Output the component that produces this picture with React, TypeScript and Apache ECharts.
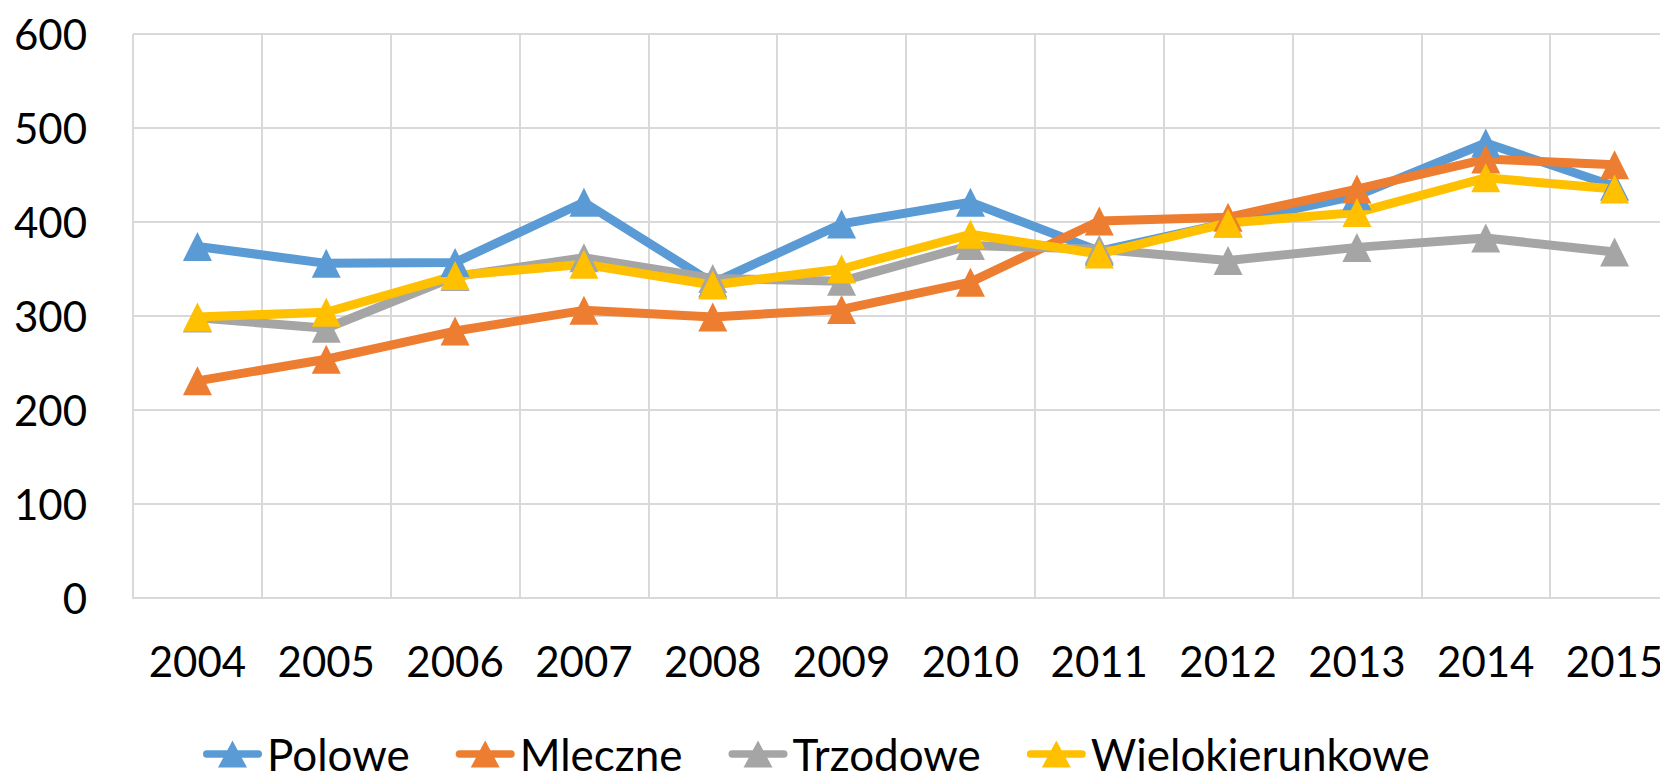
import React, { useEffect, useRef } from "react";
import * as echarts from "echarts";

const years = ["2004", "2005", "2006", "2007", "2008", "2009", "2010", "2011", "2012", "2013", "2014", "2015"];
const polowe = [374, 356, 357, 421, 335, 398, 421, 369, 399, 428, 484, 438];
const mleczne = [231, 254, 284, 306, 299, 307, 336, 401, 405, 435, 467, 461];
const trzodowe = [298, 287, 342, 362, 340, 337, 375, 371, 359, 373, 383, 368];
const wielokierunkowe = [299, 304, 343, 355, 333, 350, 387, 366, 399, 410, 447, 435];

const seriesNames = ["Polowe", "Mleczne", "Trzodowe", "Wielokierunkowe"];
const seriesColors = ["#5B9BD5", "#ED7D31", "#A5A5A5", "#FFC000"];
const yTicks = { min: 0, max: 600, interval: 100 };

const FONT = "Lato";
const LEGEND_ICON =
  "path://M3.75 9.75 L55.25 9.75 A3.75 3.75 0 0 1 55.25 17.25 L3.75 17.25 A3.75 3.75 0 0 1 3.75 9.75 Z M29.5 0 L44 27 L15 27 Z";

export default function App() {
  const ref = useRef<HTMLDivElement>(null);
  useEffect(() => {
    if (!ref.current) return;
    const chart = echarts.init(ref.current, undefined, { renderer: "svg" });
    const data = [polowe, mleczne, trzodowe, wielokierunkowe];
    chart.setOption({
      animation: false,
      backgroundColor: "#ffffff",
      grid: { left: 133, right: 1, top: 34, bottom: 177, containLabel: false },
      xAxis: {
        type: "category",
        data: years,
        boundaryGap: true,
        axisLine: { show: true, lineStyle: { color: "#D9D9D9", width: 2 } },
        axisTick: { show: false },
        splitLine: { show: true, lineStyle: { color: "#D9D9D9", width: 2 } },
        axisLabel: { color: "#000", fontSize: 42, fontFamily: FONT, margin: 42 },
      },
      yAxis: {
        type: "value",
        min: yTicks.min,
        max: yTicks.max,
        interval: yTicks.interval,
        axisLine: { show: false },
        axisTick: { show: false },
        splitLine: { show: true, lineStyle: { color: "#D9D9D9", width: 2 } },
        axisLabel: { color: "#000", fontSize: 42, fontFamily: FONT, margin: 46 },
      },
      legend: {
        left: 198,
        top: 727,
        itemGap: 46,
        itemWidth: 59,
        itemHeight: 27,
        icon: LEGEND_ICON,
        textStyle: { color: "#000", fontSize: 44, fontFamily: FONT },
        data: seriesNames,
      },
      series: seriesNames.map((name, i) => ({
        name,
        type: "line",
        data: data[i],
        symbol: "triangle",
        symbolSize: [29, 29],
        itemStyle: { color: seriesColors[i] },
        lineStyle: { color: seriesColors[i], width: 9 },
      })),
    });
    return () => chart.dispose();
  }, []);
  return (
    <div style={{ position: "fixed", left: 0, top: 0, width: 1660, height: 775, overflow: "hidden", background: "#fff" }}>
      <div ref={ref} style={{ width: 1680, height: 775 }} />
    </div>
  );
}
